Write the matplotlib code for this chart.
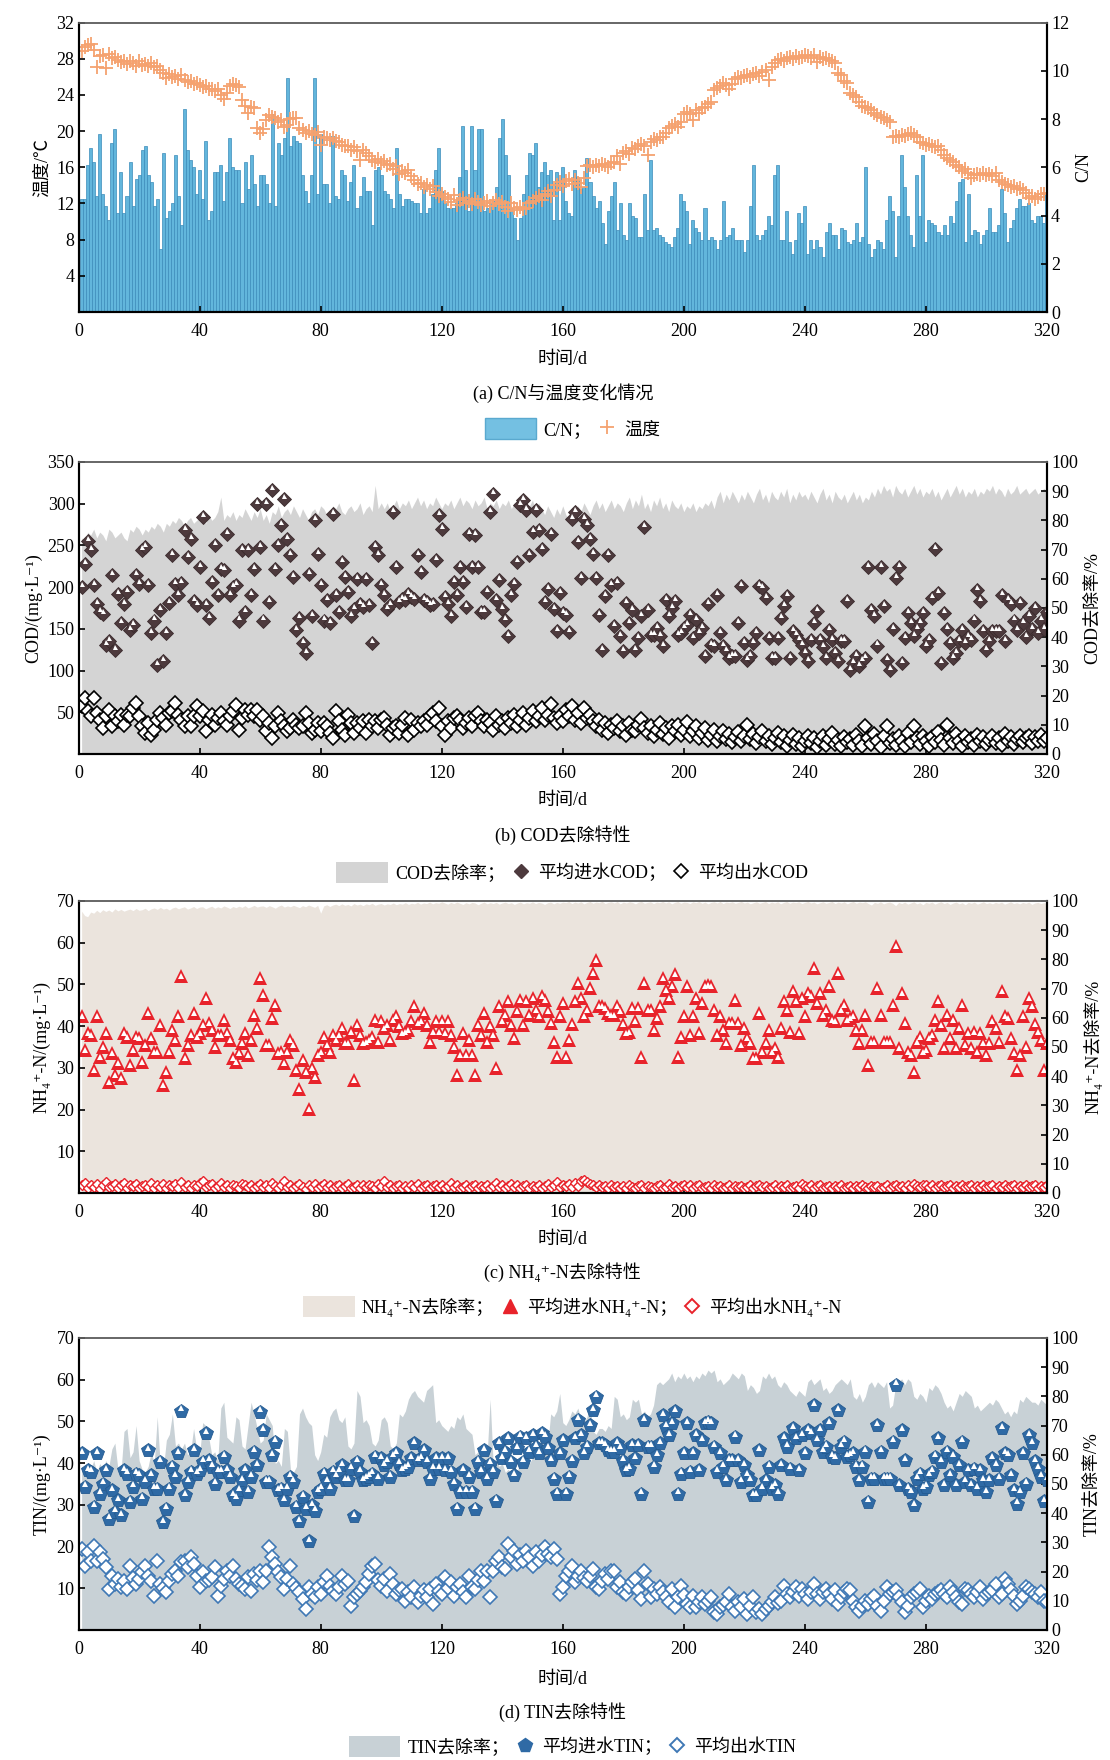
import numpy as np
import matplotlib
matplotlib.use('Agg')
import matplotlib.pyplot as plt
from matplotlib.patches import Patch, Rectangle
from matplotlib.lines import Line2D
from matplotlib.legend_handler import HandlerPatch
from matplotlib.transforms import offset_copy

plt.rcParams['font.family'] = ['Liberation Serif', 'Noto Sans CJK SC', 'DejaVu Serif']
plt.rcParams['font.size'] = 13

# ---- (a) C/N (bars, right axis) and temperature (left axis) ----
cn = [
    4.7, 4.7, 6.1, 6.8, 6.2, 4.8, 7.4, 4.9, 4.4, 3.8, 7.0, 7.6, 4.1, 5.8, 4.1, 4.8, 6.2, 4.4, 5.5, 5.7,
    6.7, 6.9, 5.7, 5.4, 4.4, 4.7, 2.6, 6.6, 3.9, 4.2, 4.5, 6.5, 4.8, 3.6, 8.4, 6.7, 6.3, 6.0, 4.9, 5.9,
    4.7, 7.1, 3.8, 4.2, 5.8, 5.8, 6.1, 4.6, 5.8, 7.2, 6.0, 5.9, 5.9, 4.5, 6.2, 5.1, 6.5, 5.3, 4.4, 5.7,
    5.7, 5.3, 4.5, 8.2, 4.4, 7.0, 6.5, 7.2, 9.7, 6.9, 7.3, 7.1, 7.0, 5.7, 5.0, 4.5, 5.7, 9.7, 4.9, 7.4,
    5.3, 5.3, 4.5, 7.3, 4.8, 4.7, 5.9, 5.7, 4.6, 5.4, 6.1, 4.3, 4.8, 5.6, 5.0, 5.0, 3.6, 5.9, 6.0, 5.7,
    5.0, 4.9, 4.7, 4.3, 6.8, 4.9, 4.4, 4.7, 4.7, 4.6, 4.5, 4.5, 4.1, 5.1, 4.1, 4.3, 4.9, 5.9, 6.8, 5.0,
    4.5, 4.3, 4.3, 4.3, 4.5, 5.6, 7.7, 5.9, 4.2, 7.7, 5.9, 7.6, 7.6, 4.2, 4.3, 4.5, 4.6, 5.2, 7.2, 8.0,
    6.5, 5.7, 4.3, 3.9, 3.0, 3.9, 4.9, 5.7, 6.6, 6.5, 7.0, 5.2, 5.8, 6.2, 5.7, 5.9, 3.8, 5.8, 3.8, 6.0,
    4.6, 4.1, 4.0, 5.9, 5.6, 5.1, 5.2, 6.4, 5.4, 4.8, 4.3, 4.6, 3.7, 2.8, 4.2, 4.8, 5.4, 3.4, 4.5, 3.2,
    3.0, 4.5, 4.0, 3.9, 3.1, 3.1, 4.9, 3.4, 6.3, 3.4, 3.5, 3.2, 3.1, 2.9, 2.8, 2.7, 3.1, 3.5, 4.9, 4.6,
    4.2, 2.8, 3.8, 3.5, 3.3, 3.0, 4.3, 3.0, 3.1, 3.0, 2.6, 3.0, 4.6, 3.1, 3.2, 3.5, 3.0, 3.0,
    3.0, 2.5, 3.0, 4.4, 6.1, 3.2, 3.0, 3.2, 3.4, 4.0, 3.6, 5.7, 6.1, 3.0, 3.0, 4.2, 2.9, 2.4, 3.0,
    4.1, 3.7, 4.4, 2.4, 3.0, 2.6, 3.0, 2.7, 2.3, 3.3, 3.7, 3.2, 3.2, 2.6, 3.5, 3.4, 2.9, 2.8,
    3.0, 3.7, 2.9, 3.1, 6.0, 2.8, 2.3, 2.6, 3.0, 2.9, 2.6, 3.8, 4.8, 4.2, 2.3, 4.0, 6.5, 5.2, 4.0,
    3.2, 2.7, 5.7, 4.0, 6.5, 2.9, 3.8, 3.7, 3.6, 3.3, 3.2, 3.6, 3.2, 4.0, 3.7, 4.6, 5.4, 5.5, 2.9, 4.9,
    3.2, 3.4, 3.3, 2.8, 3.2, 3.4, 4.3, 3.3, 3.3, 3.6, 5.1, 4.1, 2.9, 3.5, 3.8, 4.3, 4.7, 4.4, 4.4, 4.5,
    3.8, 3.7, 4.0, 4.0, 3.7, 4.9,
]
temp = [
    28.9, 29.3, 29.5, 29.6, 29.0, 27.1, 28.3, 28.4, 27.0, 28.5, 28.1, 28.2, 27.9, 27.6, 27.8, 27.4, 27.8, 27.5, 27.2, 27.7,
    27.3, 27.4, 27.2, 27.5, 27.1, 27.2, 26.8, 26.4, 25.9, 26.3, 26.0, 26.1, 25.8, 26.2, 25.6, 25.4, 25.5, 25.2, 25.3, 25.1,
    24.9, 25.0, 24.6, 24.7, 24.4, 24.6, 24.0, 23.6, 24.2, 25.0, 25.2, 25.1, 24.9, 23.4, 22.8, 22.0, 22.7, 22.6, 20.3, 19.8,
    20.2, 21.2, 21.8, 21.6, 21.4, 21.0, 21.2, 20.5, 20.7, 21.3, 21.5, 21.4, 20.3, 20.1, 19.8, 20.0, 19.7, 19.6, 19.9, 18.5,
    19.4, 19.2, 19.0, 19.2, 18.9, 18.8, 18.5, 18.3, 18.4, 17.9, 18.2, 17.8, 16.8, 17.9, 17.6, 17.3, 16.8, 16.6, 16.9, 16.5,
    16.7, 16.3, 16.4, 15.8, 16.1, 15.3, 15.6, 15.4, 15.7, 15.0, 14.6, 14.2, 14.3, 13.8, 14.0, 13.6, 13.9, 13.3, 12.8, 13.1,
    12.7, 12.5, 12.2, 12.9, 11.8, 12.4, 12.6, 12.1, 12.3, 11.9, 12.5, 12.2, 11.8, 12.0, 12.3, 11.7, 12.1, 12.4, 11.9, 12.2,
    11.6, 11.2, 12.1, 11.5, 11.3, 11.6, 11.4, 11.5, 12.0, 12.3, 12.6, 12.8, 12.4, 13.0, 13.4, 12.8, 13.5, 14.0, 14.4, 13.9,
    14.5, 14.7, 14.2, 14.6, 14.3, 13.8, 14.8, 16.1, 16.2, 16.0, 16.3, 16.1, 16.4, 16.2, 16.0, 16.5, 16.6, 17.3, 16.4, 17.6,
    17.8, 17.5, 18.1, 18.0, 18.3, 18.6, 18.4, 17.4, 18.8, 19.1, 19.0, 19.4, 19.3, 19.8, 20.3, 20.6, 20.8, 20.5, 21.0, 21.9,
    22.1, 21.9, 21.2, 22.3, 22.0, 22.5, 22.7, 23.0, 23.2, 24.5, 24.8, 25.0, 25.3, 25.1, 24.7, 25.2, 25.8, 26.0, 25.9, 26.1,
    26.2, 26.0, 26.3, 26.4, 26.1, 26.5, 26.8, 25.6, 27.1, 27.5, 27.9, 28.0, 27.8, 28.1, 28.2, 28.0, 28.3, 28.1, 28.2, 28.4,
    28.3, 28.1, 28.4, 27.6, 28.2, 28.0, 28.1, 27.9, 27.8, 27.5, 26.4, 26.2, 25.5, 25.3, 24.2, 24.0, 23.8, 23.2, 22.8, 22.7,
    22.5, 22.3, 22.0, 21.8, 21.6, 21.5, 21.2, 21.0, 19.4, 19.5, 19.3, 19.6, 19.5, 19.7, 19.8, 19.6, 19.4, 18.8, 18.7, 18.5,
    18.6, 18.4, 18.2, 18.3, 17.9, 17.4, 17.0, 16.8, 16.6, 16.3, 16.0, 15.6, 15.8, 15.4, 14.8, 15.2, 15.3, 15.1, 15.4, 15.2,
    15.3, 15.0, 15.4, 14.6, 14.4, 14.2, 14.0, 13.8, 13.9, 13.6, 13.7, 13.5, 13.2, 12.6, 12.8, 12.5, 12.7, 13.0, 13.1, 13.2,
]

# ---- (b) COD ----
cod_rem = [
    74, 73, 76, 75, 77, 74, 76, 75, 73, 77, 76, 74, 75, 76, 74, 73, 77, 76, 78, 77,
    75, 77, 76, 78, 77, 79, 78, 76, 79, 78, 80, 79, 81, 80, 78, 80, 81, 79, 80, 81,
    80, 79, 82, 80, 81, 83, 88, 80, 82, 81, 83, 80, 82, 81, 84, 82, 80, 83, 81, 84,
    80, 82, 79, 83, 82, 85, 81, 83, 84, 82, 85, 83, 81, 84, 82, 80, 83, 84, 82, 85,
    84, 82, 83, 85, 84, 86, 83, 82, 84, 85, 83, 84, 86, 82, 84, 85, 83, 92, 84, 86,
    84, 86, 83, 85, 87, 84, 86, 85, 87, 84, 86, 88, 85, 87, 84, 86, 85, 88, 86, 84,
    86, 85, 87, 84, 86, 88, 85, 87, 86, 84, 87, 85, 86, 88, 84, 86, 85, 87, 84, 86,
    85, 87, 84, 86, 85, 83, 86, 84, 85, 87, 83, 86, 84, 82, 85, 83, 81, 84, 82, 85,
    82, 80, 83, 81, 85, 83, 86, 84, 82, 85, 87, 84, 86, 83, 85, 87, 84, 86, 85, 83,
    86, 88, 84, 87, 85, 89, 84, 86, 83, 87, 85, 88, 84, 86, 83, 87, 85, 84, 86, 83,
    85, 84, 86, 83, 85, 84, 86, 85, 87, 84, 88, 90, 86, 89, 87, 90, 88, 86, 89, 87,
    90, 88, 86, 89, 91, 87, 89, 86, 90, 88, 87, 90, 88, 91, 86, 89, 87, 90, 88, 89,
    87, 90, 88, 86, 89, 91, 87, 89, 86, 90, 88, 87, 89, 86, 88, 90, 87, 89, 86, 88,
    87, 90, 88, 91, 89, 92, 90, 91, 88, 92, 90, 89, 91, 88, 90, 92, 89, 91, 88, 90,
    89, 91, 88, 90, 87, 89, 91, 88, 90, 92, 89, 91, 88, 90, 89, 91, 88, 90, 89, 91,
    90, 92, 89, 91, 90, 88, 91, 89, 90, 92, 89, 90, 91, 89, 90, 91, 89, 90, 91, 90,
]
cod_in = [
    200, 228, 255, 245, 202, 180, 170, 168, 131, 135, 214, 125, 192, 157, 180, 194, 149, 155, 214, 204,
    244, 248, 202, 145, 160, 107, 173, 111, 145, 181, 238, 204, 190, 205, 268, 236, 258, 183, 178, 224,
    284, 178, 163, 206, 250, 190, 222, 220, 264, 190, 200, 202, 160, 244, 170, 244, 190, 222, 300, 248,
    160, 300, 182, 316, 222, 250, 275, 306, 258, 238, 212, 149, 163, 133, 121, 216, 165, 280, 240, 202,
    160, 184, 157, 288, 190, 170, 230, 212, 194, 165, 174, 210, 180, 176, 210, 178, 133, 248, 238, 202,
    190, 174, 178, 290, 224, 182, 186, 184, 192, 188, 186, 238, 218, 184, 182, 178, 180, 232, 286, 270,
    188, 180, 165, 206, 190, 224, 206, 176, 264, 224, 262, 224, 170, 170, 194, 290, 312, 184, 208, 174,
    161, 141, 190, 204, 230, 298, 304, 292, 238, 266, 292, 268, 246, 182, 198, 264, 174, 147, 193, 169,
    167, 146, 282, 290, 254, 211, 282, 274, 258, 240, 211, 167, 125, 189, 238, 203, 153, 205, 141, 123,
    181, 157, 173, 125, 139, 165, 272, 173, 143, 143, 151, 141, 129, 185, 165, 175, 183, 143, 145, 151,
    155, 167, 139, 161, 145, 151, 117, 180, 131, 129, 191, 145, 129, 123, 115, 117, 117, 157, 201, 133,
    113, 117, 133, 145, 201, 199, 187, 139, 115, 115, 139, 163, 177, 189, 115, 147, 143, 137, 131, 121,
    111, 137, 157, 171, 137, 128, 115, 149, 137, 121, 111, 135, 135, 183, 101, 109, 117, 105, 111, 115,
    224, 173, 165, 130, 224, 177, 113, 101, 150, 211, 224, 109, 139, 169, 157, 141, 150, 157, 169, 129,
    137, 187, 246, 193, 109, 169, 150, 133, 115, 121, 135, 149, 133, 140, 137, 160, 197, 183, 147, 125,
    135, 147, 147, 147, 191, 135, 185, 180, 160, 149, 181, 157, 140, 165, 150, 175, 145, 160, 150, 170,
]
cod_out = [
    57, 67, 51, 45, 67, 49, 41, 31, 45, 53, 33, 45, 39, 47, 35, 47, 45, 55, 61, 45,
    33, 25, 37, 23, 29, 41, 49, 43, 35, 49, 51, 61, 47, 41, 33, 45, 33, 45, 57, 45,
    51, 27, 41, 47, 35, 43, 49, 39, 35, 45, 51, 59, 29, 43, 53, 47, 53, 45, 53, 41,
    45, 27, 37, 19, 33, 49, 39, 33, 27, 31, 41, 35, 31, 33, 49, 37, 25, 29, 37, 27,
    37, 33, 25, 19, 51, 39, 29, 23, 47, 37, 25, 37, 31, 39, 25, 41, 33, 39, 31, 41,
    43, 35, 23, 31, 33, 25, 35, 43, 23, 41, 29, 37, 33, 39, 35, 45, 49, 39, 55, 33,
    23, 39, 31, 43, 45, 41, 31, 37, 43, 33, 45, 49, 39, 33, 41, 37, 29, 45, 35, 39,
    31, 43, 37, 47, 33, 41, 49, 35, 43, 51, 39, 45, 55, 41, 47, 60, 43, 37, 45, 39,
    53, 45, 57, 41, 49, 37, 55, 43, 47, 39, 33, 41, 29, 37, 25, 35, 31, 40, 27, 33,
    23, 37, 29, 27, 35, 42, 31, 25, 33, 21, 29, 37, 24, 31, 19, 33, 27, 35, 23, 29,
    38, 21, 27, 33, 19, 25, 31, 17, 23, 29, 15, 21, 27, 18, 24, 14, 20, 26, 16, 22,
    35, 18, 24, 13, 20, 27, 15, 22, 12, 19, 25, 14, 21, 10, 17, 23, 12, 19, 9, 16,
    22, 13, 19, 8, 15, 21, 11, 18, 25, 12, 17, 9, 20, 14, 18, 11, 23, 16, 10, 33,
    19, 12, 24, 15, 8, 21, 34, 13, 18, 11, 22, 16, 9, 25, 14, 33, 19, 12, 22, 15,
    10, 20, 14, 26, 17, 11, 35, 19, 13, 24, 16, 9, 21, 14, 18, 11, 23, 15, 20, 12,
    17, 22, 13, 19, 11, 24, 15, 20, 12, 18, 21, 14, 19, 22, 13, 20, 16, 23, 15, 19,
]

# ---- (c) NH4+-N ----
nh4_rem = [
    96.5, 95.0, 94.6, 96.2, 95.8, 96.8, 96.0, 97.0, 96.4, 96.9, 96.2, 97.3, 96.6, 97.1, 96.5, 96.9, 97.2, 96.7, 97.4, 96.8,
    97.0, 97.5, 96.7, 97.3, 97.6, 97.1, 97.8, 97.2, 97.5, 96.9, 97.6, 97.9, 97.3, 97.7, 98.0, 97.2, 97.6, 98.1, 97.4, 97.9,
    98.0, 97.3, 97.8, 98.2, 97.5, 98.0, 97.6, 98.3, 97.9, 97.4, 98.1, 97.7, 98.2, 97.8, 98.4, 97.6, 98.0, 98.5, 97.9, 98.2,
    98.3, 97.8, 98.4, 98.0, 97.5, 98.2, 98.6, 97.9, 98.3, 98.0, 98.5, 98.1, 97.7, 98.4, 98.0, 98.6, 98.2, 97.8, 98.5, 95.8,
    98.3, 98.7, 98.1, 98.6, 98.9, 98.4, 99.0, 98.5, 98.8, 98.3, 99.1, 98.6, 98.9, 98.4, 99.0, 98.7, 99.2, 98.5, 98.9, 99.1,
    98.6, 99.0, 98.8, 99.3, 98.7, 99.1, 98.9, 99.4, 98.8, 99.2, 99.0, 99.5, 98.9, 99.3, 99.1, 99.6, 99.0, 99.4, 99.2, 99.7,
    99.3, 98.9, 99.5, 99.1, 99.6, 99.2, 98.8, 99.4, 99.0, 99.5, 99.3, 98.7, 99.2, 99.6, 99.0, 99.4, 99.1, 99.5, 98.9, 99.3,
    99.6, 99.1, 99.4, 98.8, 99.3, 99.6, 99.0, 99.4, 99.2, 99.7, 99.1, 99.5, 99.3, 98.8, 99.4, 99.6, 99.0, 99.5, 99.2, 99.6,
    99.4, 99.8, 99.1, 99.6, 99.3, 99.7, 99.0, 99.5, 99.8, 99.2, 99.6, 99.4, 99.9, 99.1, 99.5, 99.7, 99.3, 99.8, 99.0, 99.6,
    99.3, 99.7, 99.5, 99.0, 99.6, 99.8, 99.2, 99.5, 99.7, 99.1, 99.6, 99.4, 99.8, 99.3, 99.7, 99.0, 99.5, 99.8, 99.2, 99.6,
    99.5, 99.1, 99.7, 99.4, 99.8, 99.2, 99.6, 99.0, 99.5, 99.7, 99.3, 99.8, 99.1, 99.6, 99.4, 99.7, 99.2, 99.5, 99.8, 99.3,
    99.6, 99.0, 99.4, 99.7, 99.2, 99.5, 99.8, 99.1, 99.6, 99.3, 99.7, 99.0, 99.5, 99.8, 99.2, 99.6, 99.4, 99.7, 99.1, 99.5,
    99.8, 99.3, 99.6, 99.0, 99.4, 99.7, 99.2, 99.5, 99.8, 99.1, 99.6, 99.3, 99.7, 99.0, 99.5, 99.8, 99.2, 99.6, 99.4, 99.7,
    99.1, 98.6, 99.5, 99.2, 99.7, 99.0, 99.4, 99.6, 99.2, 98.4, 99.5, 99.1, 99.6, 98.9, 99.3, 99.7, 99.0, 99.4, 98.7, 99.5,
    99.2, 99.6, 98.9, 99.4, 99.7, 99.1, 99.5, 98.8, 99.3, 99.6, 99.0, 99.4, 98.7, 99.5, 99.2, 99.6, 98.9, 99.3, 99.7, 99.1,
    99.4, 99.0, 99.5, 99.2, 99.6, 98.9, 99.3, 99.7, 99.1, 99.4, 99.0, 99.5, 99.2, 99.6, 98.8, 99.3, 99.5, 99.1, 99.4, 99.2,
]
nh4_in = [
    42.3, 34.3, 38.3, 37.9, 29.5, 42.3, 32.7, 35.1, 38.3, 26.6, 33.5, 28.3, 31.1, 27.5, 38.3, 37.5, 30.7, 34.3, 37.5, 37.1,
    31.5, 35.5, 43.1, 37.1, 33.9, 33.9, 40.3, 25.8, 29.0, 33.9, 39.1, 36.7, 42.3, 51.9, 32.3, 35.5, 37.9, 43.1, 37.5, 38.3,
    40.3, 46.7, 40.7, 39.1, 35.1, 37.9, 37.9, 41.5, 38.3, 36.7, 32.3, 31.5, 33.5, 35.9, 38.3, 33.1, 36.7, 42.7, 39.5, 51.5,
    47.5, 35.5, 35.5, 41.9, 45.1, 33.5, 33.9, 31.1, 33.9, 36.7, 35.5, 29.5, 25.0, 31.9, 29.0, 20.2, 29.9, 27.8, 33.1, 33.9,
    37.5, 35.5, 33.9, 37.9, 36.7, 37.9, 39.5, 35.9, 35.9, 38.7, 27.1, 40.3, 37.9, 35.9, 36.3, 36.7, 37.5, 41.5, 36.3, 41.1,
    39.5, 40.3, 36.7, 41.5, 42.3, 39.9, 38.3, 38.7, 39.1, 41.1, 44.7, 40.7, 41.1, 43.1, 40.3, 36.3, 38.7, 41.1, 38.7, 41.1,
    38.3, 41.1, 37.9, 35.1, 28.3, 33.1, 38.3, 33.1, 36.7, 33.1, 28.3, 40.3, 37.9, 43.1, 36.3, 39.9, 37.9, 29.9, 44.7, 41.1,
    42.7, 45.9, 40.3, 37.1, 43.5, 46.3, 40.3, 45.9, 42.7, 46.7, 43.9, 42.3, 47.1, 46.3, 43.5, 40.7, 36.3, 32.7, 42.3, 45.5,
    32.7, 36.7, 40.6, 45.9, 50.4, 46.7, 42.3, 43.9, 49.1, 52.7, 55.9, 44.7, 44.7, 44.3, 43.1, 42.7, 42.7, 44.7, 43.5, 40.6,
    38.3, 38.7, 44.3, 41.1, 44.3, 32.7, 50.3, 43.9, 43.9, 39.1, 41.9, 44.7, 51.5, 48.7, 46.7, 49.6, 52.4, 32.7, 37.5, 42.3,
    49.6, 37.9, 42.3, 46.7, 38.3, 45.5, 49.6, 49.9, 49.6, 43.9, 37.9, 42.3, 39.1, 35.9, 40.7, 40.7, 46.3, 40.7, 35.5, 39.5,
    37.1, 35.9, 32.3, 32.3, 43.1, 33.9, 35.9, 39.1, 33.9, 34.7, 32.7, 39.5, 45.9, 43.9, 38.7, 48.3, 45.9, 38.3, 46.7, 42.3,
    47.9, 47.1, 53.9, 45.5, 47.9, 42.7, 43.9, 49.6, 41.5, 41.1, 52.7, 43.9, 45.1, 41.5, 41.9, 42.3, 39.1, 35.9, 39.1, 42.7,
    30.7, 36.3, 36.3, 49.1, 42.7, 36.3, 36.3, 36.3, 45.1, 59.2, 34.7, 47.9, 40.7, 33.9, 33.0, 29.1, 36.3, 37.5, 33.9, 34.3,
    37.1, 37.9, 41.5, 45.9, 40.3, 34.7, 42.7, 37.1, 41.5, 34.7, 39.5, 45.1, 35.5, 38.3, 34.7, 38.7, 33.9, 38.3, 35.9, 33.0,
    35.9, 41.1, 39.5, 36.3, 48.3, 42.3, 41.9, 37.1, 33.5, 29.5, 33.0, 42.3, 35.1, 46.7, 44.7, 40.5, 38.7, 36.7, 29.5, 36.0,
]
nh4_out = [
    1.8, 2.4, 1.2, 2.0, 1.5, 2.2, 1.0, 1.9, 2.5, 1.4, 1.7, 2.1, 1.1, 1.8, 2.3, 1.3, 1.9, 1.6, 2.2, 1.2,
    1.7, 2.0, 1.4, 2.4, 1.1, 1.8, 1.5, 2.1, 1.3, 1.9, 1.6, 2.2, 1.2, 2.7, 1.5, 1.9, 1.3, 2.0, 1.6, 2.3,
    2.8, 1.4, 1.8, 2.1, 1.2, 1.7, 2.4, 1.5, 1.9, 1.1, 2.0, 1.6, 1.3, 2.2, 1.8, 1.4, 2.0, 1.2, 1.7, 2.1,
    1.5, 1.9, 1.3, 2.3, 1.6, 1.1, 2.0, 2.8, 1.4, 1.8, 1.2, 1.7, 2.2, 1.4, 1.0, 1.9, 1.5, 2.1, 1.3, 1.7,
    2.2, 1.4, 1.8, 1.2, 1.6, 2.0, 1.3, 1.7, 2.1, 1.1, 1.5, 1.9, 1.2, 1.8, 1.4, 2.0, 1.6, 1.3, 2.2, 1.7,
    2.9, 1.5, 1.9, 1.2, 1.6, 2.0, 1.3, 1.7, 1.1, 1.8, 1.4, 2.1, 1.2, 1.6, 1.9, 1.3, 1.7, 2.0, 1.4, 1.8,
    1.2, 1.6, 2.3, 1.4, 1.8, 1.1, 1.5, 1.9, 1.3, 1.7, 2.0, 1.2, 1.6, 1.4, 1.9, 1.3, 1.7, 2.4, 1.5, 1.8,
    1.3, 1.7, 2.1, 1.4, 1.8, 1.2, 1.6, 2.0, 1.3, 1.7, 1.5, 1.9, 1.2, 1.6, 2.2, 1.4, 1.8, 2.5, 1.5, 2.0,
    1.6, 2.1, 1.4, 2.4, 1.7, 2.9, 3.0, 2.6, 2.2, 1.8, 1.4, 1.9, 1.5, 1.7, 1.3, 1.8, 1.4, 1.6, 1.2, 1.7,
    1.3, 1.8, 1.5, 1.2, 1.6, 1.9, 1.3, 1.7, 1.4, 1.1, 1.6, 1.8, 1.3, 1.5, 2.1, 1.4, 1.7, 1.2, 1.6, 2.0,
    1.4, 1.8, 1.3, 1.6, 1.9, 1.2, 1.5, 1.7, 1.3, 1.8, 1.4, 1.6, 1.2, 1.5, 1.9, 1.3, 1.7, 1.4, 1.6, 1.2,
    1.5, 1.8, 1.3, 1.6, 2.0, 1.4, 1.7, 1.2, 1.5, 1.9, 1.3, 1.6, 1.4, 1.8, 1.2, 1.5, 1.7, 1.3, 2.1, 1.6,
    1.4, 1.8, 1.3, 1.6, 1.9, 1.2, 1.5, 1.7, 1.3, 1.6, 1.4, 1.8, 1.2, 1.5, 1.7, 1.3, 1.6, 1.4, 1.9, 1.5,
    1.3, 1.7, 1.4, 1.6, 1.2, 1.5, 1.8, 1.3, 1.6, 2.0, 1.4, 1.7, 1.3, 1.9, 1.5, 2.2, 1.6, 1.4, 1.8, 2.0,
    1.5, 1.8, 1.3, 1.7, 2.0, 1.4, 1.6, 1.9, 1.3, 1.7, 1.5, 2.0, 1.4, 1.6, 1.9, 1.3, 1.7, 1.5, 1.8, 1.4,
    1.6, 1.9, 1.3, 1.7, 1.5, 1.8, 1.4, 1.6, 2.0, 1.3, 1.7, 1.5, 1.9, 1.4, 1.6, 1.8, 1.3, 1.7, 1.5, 1.9,
]

# ---- (d) TIN ----
tin_rem = [
    56, 53, 57, 55, 58, 54, 57, 55, 58, 56, 62, 64, 55, 54, 68, 69, 59, 61, 70, 58,
    55, 54, 56, 61, 57, 73, 56, 55, 65, 67, 74, 63, 64, 62, 64, 60, 61, 69, 62, 60,
    71, 70, 66, 60, 61, 58, 76, 78, 66, 65, 64, 73, 72, 63, 62, 70, 78, 74, 69, 64,
    65, 74, 72, 70, 57, 58, 56, 69, 68, 55, 54, 56, 74, 76, 73, 71, 70, 60, 58, 61,
    67, 66, 73, 75, 76, 72, 71, 73, 63, 62, 64, 82, 80, 71, 72, 70, 64, 63, 65, 72,
    73, 71, 63, 62, 64, 74, 73, 75, 79, 81, 82, 80, 79, 78, 82, 83, 84, 71, 72, 70,
    69, 68, 70, 69, 73, 72, 74, 69, 68, 67, 60, 61, 59, 62, 60, 79, 57, 58, 56, 57,
    54, 55, 53, 56, 54, 59, 58, 60, 57, 59, 63, 62, 64, 61, 63, 74, 73, 75, 81, 71,
    70, 72, 75, 74, 76, 72, 71, 73, 77, 68, 67, 69, 69, 68, 70, 69, 80, 79, 73, 74,
    72, 73, 79, 78, 79, 74, 75, 73, 74, 77, 84, 85, 84, 85, 86, 88, 85, 87, 86, 88,
    86, 87, 85, 87, 86, 88, 87, 89, 88, 89, 85, 86, 84, 85, 86, 88, 87, 86, 88, 87,
    82, 84, 83, 81, 82, 87, 86, 88, 86, 87, 84, 83, 85, 84, 82, 81, 80, 82, 81, 80,
    85, 86, 84, 85, 86, 82, 83, 81, 82, 84, 85, 86, 85, 84, 86, 80, 79, 81, 78, 80,
    84, 85, 83, 85, 84, 83, 85, 76, 77, 84, 85, 86, 84, 86, 85, 80, 79, 81, 80, 78,
    83, 82, 84, 83, 81, 78, 76, 77, 75, 78, 81, 80, 82, 81, 80, 76, 77, 75, 76, 77,
    78, 77, 79, 78, 76, 74, 75, 73, 75, 74, 79, 78, 80, 79, 78, 78, 77, 79, 78, 77,
]
tin_in = [
    42.3, 34.3, 38.3, 37.9, 29.5, 42.3, 32.7, 35.1, 38.3, 26.6, 33.5, 28.3, 31.1, 27.5, 38.3, 37.5, 30.7, 34.3, 37.5, 37.1,
    31.5, 35.5, 43.1, 37.1, 33.9, 33.9, 40.3, 25.8, 29.0, 33.9, 39.1, 36.7, 42.3, 52.5, 32.3, 35.5, 37.9, 43.1, 37.5, 38.3,
    40.3, 47.1, 40.7, 39.1, 35.1, 37.9, 37.9, 41.5, 38.3, 36.7, 32.3, 31.5, 33.5, 35.9, 38.3, 33.1, 36.7, 42.7, 39.5, 52.3,
    47.9, 35.5, 35.5, 41.9, 45.1, 33.5, 33.9, 31.1, 33.9, 36.7, 35.5, 29.5, 26.0, 31.9, 29.0, 21.3, 29.9, 28.6, 33.1, 33.9,
    37.5, 35.5, 33.9, 37.9, 36.7, 37.9, 39.5, 35.9, 35.9, 38.7, 27.3, 40.3, 37.9, 35.9, 36.3, 36.7, 37.5, 41.5, 36.3, 41.1,
    39.5, 40.3, 36.7, 41.5, 42.3, 39.9, 38.3, 38.7, 39.1, 41.1, 44.7, 40.7, 41.1, 43.1, 40.3, 36.3, 38.7, 41.1, 38.7, 41.1,
    38.3, 41.1, 37.9, 35.1, 29.0, 33.1, 38.3, 33.1, 36.7, 33.1, 29.0, 40.3, 37.9, 43.1, 36.3, 39.9, 37.9, 31.0, 44.7, 41.1,
    42.7, 45.9, 40.3, 37.1, 43.5, 46.3, 40.3, 45.9, 42.7, 46.7, 43.9, 42.3, 47.1, 46.3, 43.5, 40.7, 36.3, 32.7, 42.3, 45.5,
    32.7, 36.7, 40.6, 45.9, 50.4, 46.7, 42.3, 43.9, 49.1, 52.7, 55.9, 44.7, 44.7, 44.3, 43.1, 42.7, 42.7, 44.7, 43.5, 40.6,
    38.3, 38.7, 44.3, 41.1, 44.3, 32.7, 50.3, 43.9, 43.9, 39.1, 41.9, 44.7, 51.5, 48.7, 46.7, 49.6, 52.4, 32.7, 37.5, 42.3,
    49.6, 37.9, 42.3, 46.7, 38.3, 45.5, 49.6, 49.9, 49.6, 43.9, 37.9, 42.3, 39.1, 35.9, 40.7, 40.7, 46.3, 40.7, 35.5, 39.5,
    37.1, 35.9, 32.3, 32.3, 43.1, 33.9, 35.9, 39.1, 33.9, 34.7, 32.7, 39.5, 45.9, 43.9, 38.7, 48.3, 45.9, 38.3, 46.7, 42.3,
    47.9, 47.1, 53.9, 45.5, 47.9, 42.7, 43.9, 49.6, 41.5, 41.1, 52.7, 43.9, 45.1, 41.5, 41.9, 42.3, 39.1, 35.9, 39.1, 42.7,
    30.7, 36.3, 36.3, 49.1, 42.7, 36.3, 36.3, 36.3, 45.1, 58.8, 34.7, 47.9, 40.7, 33.9, 33.0, 29.9, 36.3, 37.5, 33.9, 34.3,
    37.1, 37.9, 41.5, 45.9, 40.3, 34.7, 42.7, 37.1, 41.5, 34.7, 39.5, 45.1, 35.5, 38.3, 34.7, 38.7, 33.9, 38.3, 35.9, 33.0,
    35.9, 41.1, 39.5, 36.3, 48.3, 42.3, 41.9, 37.1, 33.5, 30.2, 33.0, 42.3, 35.1, 46.7, 44.7, 40.5, 38.7, 36.7, 30.8, 36.0,
]
tin_out = [
    19.4, 15.4, 18.6, 16.6, 20.2, 16.6, 18.6, 17.0, 15.0, 9.8, 13.0, 11.0, 12.2, 10.2, 11.8, 9.8, 15.4, 12.5, 11.0, 12.2,
    13.8, 15.4, 13.0, 11.8, 8.2, 16.6, 11.0, 10.0, 9.0, 11.8, 13.4, 14.2, 13.0, 16.2, 16.6, 15.0, 17.4, 15.8, 13.0, 10.2,
    13.8, 11.8, 12.0, 12.6, 15.0, 8.2, 10.6, 12.2, 14.2, 13.0, 15.4, 12.2, 11.0, 10.6, 9.8, 12.6, 9.4, 13.4, 12.0, 14.2,
    11.4, 14.2, 19.8, 17.4, 15.8, 14.0, 12.6, 9.8, 12.2, 15.4, 11.0, 10.0, 9.0, 7.4, 5.0, 10.2, 8.5, 7.8, 10.2, 8.6,
    11.4, 13.0, 10.5, 9.4, 8.6, 10.2, 13.0, 11.0, 11.8, 5.8, 7.8, 8.5, 9.4, 10.2, 11.4, 13.4, 15.4, 15.8, 12.0, 10.6,
    12.2, 9.4, 13.4, 11.0, 8.6, 9.5, 9.8, 7.0, 9.0, 8.0, 10.2, 6.6, 8.2, 9.5, 7.8, 9.8, 6.2, 11.0, 9.4, 8.6,
    12.6, 10.0, 11.4, 8.2, 10.2, 11.0, 9.0, 7.8, 13.0, 10.2, 9.8, 12.0, 14.2, 11.8, 14.2, 7.8, 14.2, 16.6, 17.4, 15.0,
    14.6, 20.6, 17.4, 19.0, 15.8, 18.0, 16.6, 19.0, 17.4, 15.4, 18.6, 16.6, 18.0, 19.8, 18.2, 17.4, 19.4, 17.0, 8.6, 10.2,
    13.0, 14.2, 15.4, 11.4, 13.0, 14.2, 12.5, 11.8, 13.0, 14.6, 10.2, 9.8, 11.8, 13.5, 12.2, 14.2, 14.2, 10.2, 11.5, 9.0,
    8.6, 10.2, 11.4, 12.2, 9.5, 7.4, 14.2, 11.0, 7.8, 9.8, 8.6, 10.2, 9.0, 7.8, 6.6, 9.8, 5.4, 7.8, 10.6, 8.4,
    6.2, 5.4, 8.2, 5.4, 6.6, 7.8, 6.2, 7.0, 7.8, 4.2, 3.8, 5.4, 6.0, 6.6, 8.6, 5.4, 4.6, 6.6, 5.5, 7.4,
    3.8, 5.8, 7.8, 4.2, 5.0, 3.8, 5.0, 5.8, 6.6, 7.8, 6.5, 7.0, 10.6, 8.6, 7.8, 9.0, 10.2, 8.2, 9.8, 8.6,
    7.4, 9.2, 11.0, 8.6, 7.4, 9.0, 9.8, 8.5, 7.4, 9.5, 6.2, 7.8, 9.0, 9.8, 9.5, 7.0, 5.4, 4.6, 5.8, 7.0,
    6.2, 7.5, 8.2, 5.8, 4.6, 7.0, 10.2, 8.6, 9.0, 9.5, 7.8, 6.6, 4.2, 5.8, 7.8, 8.5, 9.0, 9.8, 5.4, 7.0,
    8.2, 7.4, 8.6, 9.0, 9.5, 8.6, 7.8, 10.2, 9.0, 7.8, 6.6, 6.2, 9.8, 9.5, 8.5, 7.8, 9.0, 10.2, 7.4, 8.6,
    9.0, 9.5, 11.0, 7.8, 8.6, 12.2, 11.0, 9.5, 8.2, 6.2, 7.0, 8.2, 10.2, 9.8, 9.2, 8.6, 7.8, 9.0, 7.0, 6.6,
]

NH4 = 'NH\u2084\u207a-N'
UNIT = '/(mg·L\u207b\u00b9)'


def days(v):
    return np.arange(1, len(v) + 1)


def wide_patch(legend, orig_handle, xdescent, ydescent, width, height, fontsize):
    # legend box for the removal-rate fill is drawn wider than the marker slots
    return Rectangle((-xdescent - 1.6 * width, -ydescent - 0.15 * height), 2.6 * width, 1.3 * height)


fig = plt.figure(figsize=(11.1, 17.6), dpi=100)
LEFT, WIDTH = 0.0708, 0.8724
boxes = [(0.8227, 0.1645), (0.5716, 0.1659), (0.3222, 0.1659), (0.0739, 0.1659)]
axes = []
for b, h in boxes:
    ax = fig.add_axes([LEFT, b, WIDTH, h])
    ax2 = ax.twinx()
    ax.set_zorder(ax2.get_zorder() + 1)
    ax.patch.set_visible(False)
    ax2.set_facecolor('#fdfdfd')
    ax.set_xlim(0, 320)
    ax.set_xticks(range(0, 321, 40))
    for a in (ax, ax2):
        a.tick_params(direction='in', length=4, width=1.2, labelsize=13, pad=3)
        a.tick_params(axis='x', pad=8)
        for side in ('left', 'right', 'bottom'):
            a.spines[side].set_linewidth(1.5)
        a.spines['top'].set_linewidth(1.2)
        a.spines['top'].set_color('#666666')
    axes.append((ax, ax2))

# (a)
ax, ax2 = axes[0]
ax2.bar(days(cn), cn, width=1.0, color='#62b6dc', edgecolor='#3b8cba', linewidth=0.5)
ax.plot(days(temp), temp, ls='none', marker='+', ms=10, mew=1.3, color='#f5a26f')
ax.set_ylim(0, 32)
ax.set_yticks(range(4, 33, 4))
ax2.set_ylim(0, 12)
ax2.set_yticks(range(0, 13, 2))
ax.set_ylabel('温度/℃', fontsize=13)
ax2.set_ylabel('C/N', fontsize=13)

# (b)
ax, ax2 = axes[1]
ax2.fill_between(days(cod_rem), 0, cod_rem, color='#d4d4d4', lw=0)
ax.plot(days(cod_in), cod_in, ls='none', marker='D', ms=7.5, color='#4d3a3d', mec='#3a2a2c', mew=0.6)
hl = offset_copy(ax.transData, fig=fig, x=0, y=2.2, units='points')
ax.plot(days(cod_in), cod_in, ls='none', marker='^', ms=3.6, color='white', mew=0, transform=hl)
ax.plot(days(cod_out), cod_out, ls='none', marker='D', ms=7.5, mfc='white', mec='black', mew=1.2)
ax.set_ylim(0, 350)
ax.set_yticks(range(50, 351, 50))
ax2.set_ylim(0, 100)
ax2.set_yticks(range(0, 101, 10))
ax.set_ylabel('COD' + UNIT, fontsize=13)
ax2.set_ylabel('COD去除率/%', fontsize=13)

# (c)
ax, ax2 = axes[2]
ax2.fill_between(days(nh4_rem), 0, nh4_rem, color='#ebe4dd', lw=0)
ax.plot(days(nh4_in), nh4_in, ls='none', marker='^', ms=10, color='#e8232b', mew=0)
ax.plot(days(nh4_in), nh4_in, ls='none', marker='^', ms=3.8, color='white', mew=0)
ax.plot(days(nh4_out), nh4_out, ls='none', marker='D', ms=4.8, mfc='white', mec='#e8232b', mew=1.0)
ax.set_ylim(0, 70)
ax.set_yticks(range(10, 71, 10))
ax2.set_ylim(0, 100)
ax2.set_yticks(range(0, 101, 10))
ax.set_ylabel(NH4 + UNIT, fontsize=13)
ax2.set_ylabel(NH4 + '去除率/%', fontsize=13)

# (d)
ax, ax2 = axes[3]
ax2.fill_between(days(tin_rem), 0, tin_rem, color='#c8d1d6', lw=0)
ax.plot(days(tin_in), tin_in, ls='none', marker='p', ms=10, color='#2f6aa5', mec='#245a90', mew=0.6)
hl = offset_copy(ax.transData, fig=fig, x=0, y=1.8, units='points')
ax.plot(days(tin_in), tin_in, ls='none', marker='^', ms=4, color='white', mew=0, transform=hl)
ax.plot(days(tin_out), tin_out, ls='none', marker='D', ms=7.5, mfc='white', mec='#3f78b5', mew=1.2)
ax.set_ylim(0, 70)
ax.set_yticks(range(10, 71, 10))
ax2.set_ylim(0, 100)
ax2.set_yticks(range(0, 101, 10))
ax.set_ylabel('TIN' + UNIT, fontsize=13)
ax2.set_ylabel('TIN去除率/%', fontsize=13)

# captions and legends
xc = 0.507
captions = ['(a) C/N与温度变化情况', '(b) COD去除特性', '(c) ' + NH4 + '去除特性', '(d) TIN去除特性']
ys = [(0.796, 0.7767, 0.756), (0.5449, 0.5256, 0.504), (0.2955, 0.2773, 0.2574), (0.046, 0.0273, 0.0074)]
handles = [
    [Patch(facecolor='#74c0e2', edgecolor='#5aa9cf'),
     Line2D([], [], ls='none', marker='+', ms=10, mew=1.3, color='#f5a26f')],
    [Patch(facecolor='#d4d4d4', edgecolor='none'),
     Line2D([], [], ls='none', marker='D', ms=7, color='#4d3a3d'),
     Line2D([], [], ls='none', marker='D', ms=7, mfc='white', mec='black', mew=1.2)],
    [Patch(facecolor='#ebe4dd', edgecolor='none'),
     Line2D([], [], ls='none', marker='^', ms=10, color='#e8232b'),
     Line2D([], [], ls='none', marker='D', ms=7, mfc='white', mec='#e8232b', mew=1.4)],
    [Patch(facecolor='#c8d1d6', edgecolor='none'),
     Line2D([], [], ls='none', marker='p', ms=10, color='#2f6aa5'),
     Line2D([], [], ls='none', marker='D', ms=7, mfc='white', mec='#3f78b5', mew=1.4)],
]
labels = [
    ['C/N；', '温度'],
    ['COD去除率；', '平均进水COD；', '平均出水COD'],
    [NH4 + '去除率；', '平均进水' + NH4 + '；', '平均出水' + NH4],
    ['TIN去除率；', '平均进水TIN；', '平均出水TIN'],
]
for i, (ax, ax2) in enumerate(axes):
    y1, y2, y3 = ys[i]
    fig.text(xc, y1, '时间/d', ha='center', va='center', fontsize=13)
    fig.text(xc, y2, captions[i], ha='center', va='center', fontsize=13)
    fig.legend(handles=handles[i], labels=labels[i], loc='center', bbox_to_anchor=(0.53, y3),
               ncol=len(labels[i]), frameon=False, fontsize=13, handlelength=1.1, handleheight=1.0,
               handletextpad=0.4, columnspacing=0.3, borderpad=0.1,
               handler_map={Patch: HandlerPatch(patch_func=wide_patch)})

fig.savefig('out.png', dpi=100)
